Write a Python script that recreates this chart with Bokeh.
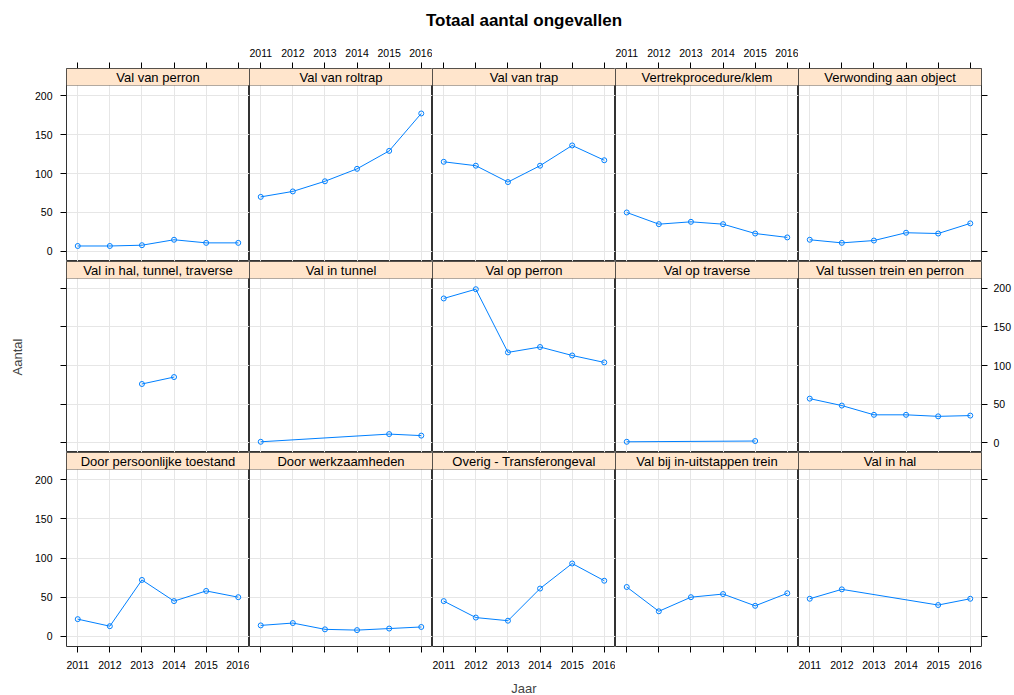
from bokeh.plotting import figure
from bokeh.layouts import gridplot, column
from bokeh.models import Range1d, FixedTicker, LinearAxis, Grid, BoxAnnotation, Label
from bokeh.embed import file_html
from bokeh.resources import INLINE

# ---------------- data ----------------
years = [2011, 2012, 2013, 2014, 2015, 2016]
y_ticks = [0, 50, 100, 150, 200]

main_title = "Totaal aantal ongevallen"
x_label = "Jaar"
y_label = "Aantal"

panel_titles = [
    "Val van perron", "Val van roltrap", "Val van trap", "Vertrekprocedure/klem", "Verwonding aan object",
    "Val in hal, tunnel, traverse", "Val in tunnel", "Val op perron", "Val op traverse", "Val tussen trein en perron",
    "Door persoonlijke toestand", "Door werkzaamheden", "Overig - Transferongeval", "Val bij in-uitstappen trein", "Val in hal",
]

val_van_perron = [7, 7, 8, 15, 11, 11]
val_van_roltrap = [70, 77, 90, 106, 129, 177]
val_van_trap = [115, 110, 89, 110, 136, 117]
vertrekprocedure_klem = [50, 35, 38, 35, 23, 18]
verwonding_aan_object = [15, 11, 14, 24, 23, 36]
val_in_hal_tunnel_traverse = [None, None, 76, 85, None, None]
val_in_tunnel = [1, None, None, None, 11, 9]
val_op_perron = [187, 199, 117, 124, 113, 104]
val_op_traverse = [1, None, None, None, 2, None]
val_tussen_trein_en_perron = [57, 48, 36, 36, 34, 35]
door_persoonlijke_toestand = [22, 13, 72, 45, 58, 50]
door_werkzaamheden = [14, 17, 9, 8, 10, 12]
overig_transferongeval = [45, 24, 20, 61, 93, 71]
val_bij_in_uitstappen_trein = [63, 32, 50, 54, 39, 55]
val_in_hal = [48, 60, None, None, 40, 48]

panel_values = [
    val_van_perron, val_van_roltrap, val_van_trap, vertrekprocedure_klem, verwonding_aan_object,
    val_in_hal_tunnel_traverse, val_in_tunnel, val_op_perron, val_op_traverse, val_tussen_trein_en_perron,
    door_persoonlijke_toestand, door_werkzaamheden, overig_transferongeval, val_bij_in_uitstappen_trein, val_in_hal,
]

# ---------------- style ----------------
FONT = "Liberation Sans"
LINE_COL = "#0080ff"
STRIP_COL = "#ffe5cc"
GRID_COL = "#e6e6e6"
FRAME_COL = "#333333"
TICK_FS = "10.5px"

col_w = 183
row_h = [193, 191, 194]
strip_px = 17
left_b, right_b, top_b, bottom_b = 66, 33, 30, 48
title_h = 38

x0, x1 = 2010.65, 2016.35
y0, y1 = -12.9, 212.9


def make_axis(ticks, show_labels, standoff):
    ax = LinearAxis(
        ticker=FixedTicker(ticks=ticks),
        axis_line_color=None,
        major_tick_in=0, major_tick_out=6,
        minor_tick_in=0, minor_tick_out=0,
        major_tick_line_color="black",
        major_label_text_font=FONT,
        major_label_text_font_size=TICK_FS,
        major_label_text_color="black",
        major_label_standoff=standoff,
    )
    if not show_labels:
        ax.major_label_overrides = {t: "" for t in ticks}
        ax.major_label_text_color = None
    return ax


# title bar
tfig = figure(
    frame_width=col_w * 5, frame_height=title_h,
    x_range=Range1d(0, 1), y_range=Range1d(0, 1),
    x_axis_location=None, y_axis_location=None,
    toolbar_location=None, tools="", output_backend="svg",
    min_border_left=left_b, min_border_right=right_b, min_border_top=0, min_border_bottom=0,
    outline_line_color=None, background_fill_color="white", border_fill_color="white",
)
tfig.center = []
tfig.add_layout(Label(x=0.5, y=0.47, text=main_title, text_align="center", text_baseline="middle",
                      text_font=FONT, text_font_size="17px", text_font_style="bold", text_color="black"))

rows = []
for r in range(3):
    row = []
    for c in range(5):
        i = r * 5 + c
        panel_px = row_h[r] - strip_px
        strip_units = (y1 - y0) * strip_px / panel_px
        p = figure(
            frame_width=col_w, frame_height=row_h[r],
            x_range=Range1d(x0, x1), y_range=Range1d(y0, y1 + strip_units),
            x_axis_location=None, y_axis_location=None,
            toolbar_location=None, tools="", output_backend="svg",
            min_border_left=left_b if c == 0 else 0,
            min_border_right=right_b if c == 4 else 0,
            min_border_top=top_b if r == 0 else 0,
            min_border_bottom=bottom_b if r == 2 else 0,
            outline_line_color=FRAME_COL, outline_line_width=1,
            background_fill_color="white", border_fill_color="white",
        )
        p.center = []
        p.add_layout(Grid(dimension=0, ticker=FixedTicker(ticks=years), grid_line_color=GRID_COL))
        p.add_layout(Grid(dimension=1, ticker=FixedTicker(ticks=y_ticks), grid_line_color=GRID_COL))

        # strip
        p.add_layout(BoxAnnotation(bottom=y1, fill_color=STRIP_COL, fill_alpha=1.0,
                                   line_color="black", line_width=1))
        p.add_layout(Label(x=(x0 + x1) / 2, y=y1 + strip_units / 2, text=panel_titles[i],
                           text_align="center", text_baseline="middle",
                           text_font=FONT, text_font_size="13px", text_color="black"))

        # data
        xs = [yr for yr, v in zip(years, panel_values[i]) if v is not None]
        ys = [v for v in panel_values[i] if v is not None]
        p.line(xs, ys, line_color=LINE_COL, line_width=1)
        p.scatter(xs, ys, marker="circle", size=5, fill_color=None,
                  line_color=LINE_COL, line_width=1)

        # axes (lattice-style alternating)
        if c == 0:
            ax = make_axis(y_ticks, r != 1, 8)
            if r == 1:
                ax.axis_label = y_label
                ax.axis_label_text_font = FONT
                ax.axis_label_text_font_size = "13px"
                ax.axis_label_text_font_style = "normal"
                ax.axis_label_standoff = 36
            p.add_layout(ax, "left")
        if c == 4:
            p.add_layout(make_axis(y_ticks, r == 1, 6), "right")
        if r == 0:
            p.add_layout(make_axis(years, c in (1, 3), 6), "above")
        if r == 2:
            ax = make_axis(years, c in (0, 2, 4), 8)
            if c == 2:
                ax.axis_label = x_label
                ax.axis_label_text_font = FONT
                ax.axis_label_text_font_size = "13px"
                ax.axis_label_text_font_style = "normal"
                ax.axis_label_standoff = 9
            p.add_layout(ax, "below")
        row.append(p)
    rows.append(row)

grid = gridplot(rows, toolbar_location=None)
layout = column(tfig, grid)

open("out.html", "w").write(file_html(layout, INLINE))
